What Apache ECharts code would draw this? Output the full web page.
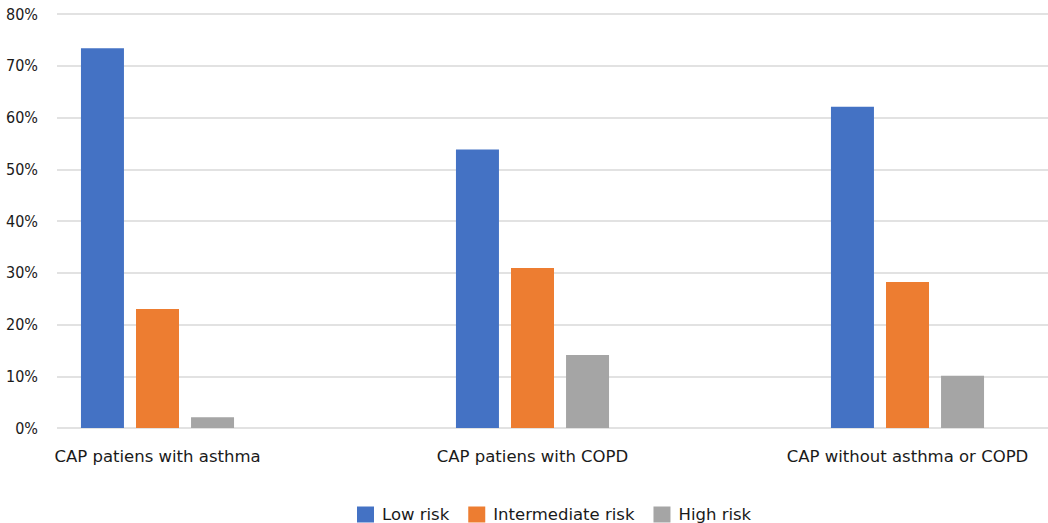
<!DOCTYPE html>
<html>
<head>
<meta charset="utf-8">
<script src="https://cdn.jsdelivr.net/npm/echarts@6/dist/echarts.min.js"></script>
<style>
html,body{margin:0;padding:0;background:#fff;}
#chart{width:1048px;height:523px;}
</style>
</head>
<body>
<div id="chart"></div>
<script>
const categories = ['CAP patiens with asthma', 'CAP patiens with COPD', 'CAP without asthma or COPD'];
const seriesNames = ['Low risk', 'Intermediate risk', 'High risk'];
const lowRisk = [73.4, 53.8, 62.1];
const intermediateRisk = [23.0, 30.9, 28.2];
const highRisk = [2.1, 14.1, 10.1];
const yTicks = [0, 10, 20, 30, 40, 50, 60, 70, 80];
const colors = ['#4472C4', '#ED7D31', '#A5A5A5'];

const FONT = 'DejaVu Sans';
const chart = echarts.init(document.getElementById('chart'), null, {renderer: 'svg'});
const seriesData = [lowRisk, intermediateRisk, highRisk];

chart.setOption({
  animation: false,
  color: colors,
  textStyle: {fontFamily: FONT},
  grid: [
    {left: 57, right: 0, top: 14, bottom: 95},
    {left: 157.5, width: 750, top: 14, bottom: 95}
  ],
  xAxis: [
    {gridIndex: 0, type: 'category', data: categories, show: false},
    {
      gridIndex: 1, type: 'category', data: categories, boundaryGap: false,
      axisLine: {show: false}, axisTick: {show: false}, splitLine: {show: false},
      axisLabel: {color: '#1a1a1a', fontSize: 16.5, margin: 20, fontFamily: FONT}
    }
  ],
  yAxis: [
    {
      gridIndex: 0, type: 'value', min: yTicks[0], max: yTicks[yTicks.length - 1], interval: 10,
      axisLine: {show: false}, axisTick: {show: false},
      axisLabel: {color: '#1a1a1a', fontSize: 16, margin: 19, fontFamily: 'DejaVu Sans Condensed, DejaVu Sans', formatter: v => v + '%'},
      splitLine: {lineStyle: {color: '#D9D9D9', width: 1.5}}
    },
    {
      gridIndex: 1, type: 'value', min: yTicks[0], max: yTicks[yTicks.length - 1], interval: 10,
      show: false, splitLine: {show: false}
    }
  ],
  legend: {
    left: 357, top: 506, padding: 0,
    itemWidth: 17, itemHeight: 16, itemGap: 19,
    icon: 'rect',
    textStyle: {color: '#1a1a1a', fontSize: 16.5, fontFamily: FONT, padding: [0, 0, 0, 3]},
    data: seriesNames
  },
  series: seriesNames.map((name, i) => ({
    name: name,
    type: 'bar',
    xAxisIndex: 1, yAxisIndex: 1,
    barWidth: 43,
    barGap: '28%',
    clip: false,
    data: seriesData[i]
  }))
});
</script>
</body>
</html>
